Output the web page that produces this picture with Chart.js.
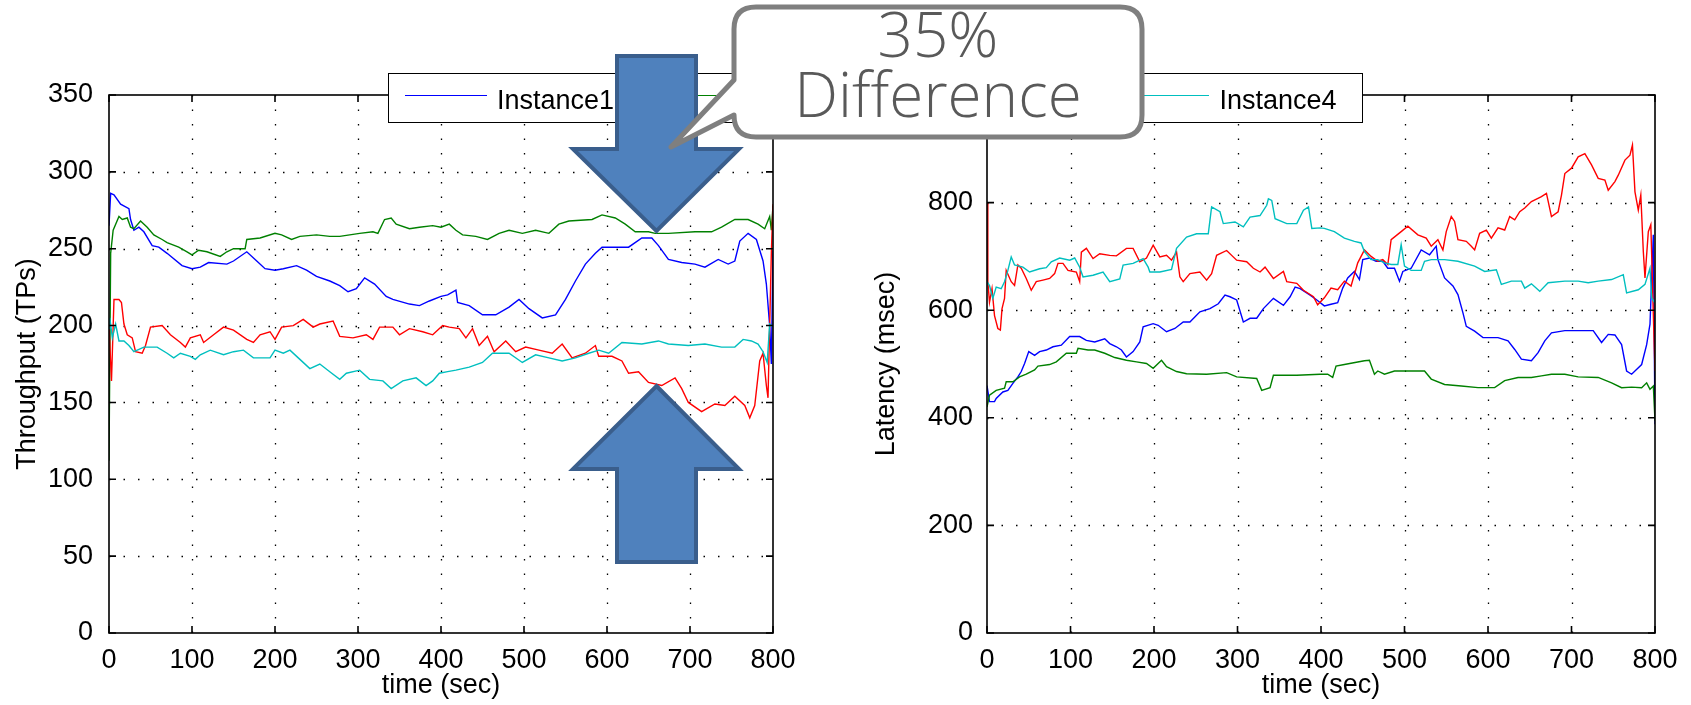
<!DOCTYPE html>
<html>
<head>
<meta charset="utf-8">
<script src="https://cdn.jsdelivr.net/npm/chart.js@4/dist/chart.umd.min.js"></script>
<style>
  html, body { margin: 0; padding: 0; background: #fff; }
  #stage { position: relative; width: 1691px; height: 705px; overflow: hidden; background: #fff; }
  canvas { position: absolute; top: 0; }
  #legend { position: absolute; left: 388px; top: 73px; width: 975px; height: 50px; box-sizing: border-box;
            border: 1.5px solid #000; background: #fff; font-family: "Liberation Sans", Arial, Helvetica, sans-serif; }
  .lg-line { position: absolute; top: 21px; width: 82px; height: 0; border-top: 1.5px solid; }
  .lg-text { position: absolute; top: 3px; height: 47px; line-height: 47px; font-size: 27px; color: #000; white-space: nowrap; }
  svg.ov { position: absolute; left: 0; top: 0; }
  #callText { position: absolute; left: 734px; top: 3px; width: 408px; text-align: center; font-family: "Open Sans", Lato, sans-serif;
              font-weight: 300; font-size: 62px; line-height: 60px; color: #595959; }
</style>
</head>
<body>
<div id="stage">
  <canvas id="tp" width="820" height="705" style="left:0;width:820px;height:705px"></canvas>
  <canvas id="lat" width="841" height="705" style="left:850px;width:841px;height:705px"></canvas>
  <div id="legend"></div>
  <svg class="ov" width="1691" height="705">
    <polygon points="617,56 696,56 696,149 739,149 656.5,231 573,149 617,149" fill="#4f81bd" stroke="#3a5e8c" stroke-width="4"/>
    <polygon points="656.5,386 739,469 696,469 696,562 617,562 617,469 573,469" fill="#4f81bd" stroke="#3a5e8c" stroke-width="4"/>
  </svg>
  <svg class="ov" width="1691" height="705">
    <path d="M 756 7 H 1120 Q 1142 7 1142 29 V 115 Q 1142 137 1120 137 H 756 Q 734 137 734 115 L 671 147 L 734 80 V 29 Q 734 7 756 7 Z"
          fill="#fff" stroke="#7f7f7f" stroke-width="5" stroke-linejoin="round"/>
  </svg>
  <div id="callText">35%<br>Difference</div>
</div>
<script>
// ---------- data ----------
const seriesNames = ['Instance1', 'Instance2', 'Instance3', 'Instance4'];
const timeTicks = [0, 100, 200, 300, 400, 500, 600, 700, 800];
const throughputTicks = [0, 50, 100, 150, 200, 250, 300, 350];
const latencyTicks = [0, 200, 400, 600, 800, 1000];

// Throughput (TPs) vs time (sec): [time, value]
const tpInstance1 = [[0,265],[2,286],[6,285],[14,279],[24,276],[26,269],[30,262],[36,264],[42,261],[52,252],[60,251],[70,247],[88,239],[100,237],[110,238],[120,241],[142,240],[150,242],[166,248],[178,242],[188,237],[200,236],[210,237],[226,239],[238,236],[250,232],[266,229],[278,226],[288,222],[298,224],[308,231],[320,227],[334,219],[342,217],[362,214],[374,213],[386,216],[400,219],[408,220],[418,223],[420,215],[434,213],[450,207],[466,207],[482,212],[494,217],[506,211],[522,205],[538,207],[550,217],[562,229],[574,240],[586,247],[594,251],[610,251],[626,251],[642,257],[654,257],[662,252],[674,243],[690,241],[706,240],[718,238],[734,243],[746,240],[754,242],[760,255],[770,260],[780,256],[788,242],[792,227],[796,200],[798,175],[800,249]];
const tpInstance2 = [[0,112],[2,247],[5,262],[12,271],[16,269],[22,270],[26,264],[30,263],[38,268],[46,264],[54,259],[64,256],[70,254],[84,251],[94,248],[100,246],[108,249],[118,248],[134,245],[142,248],[150,250],[164,250],[166,256],[182,257],[200,260],[208,259],[220,256],[230,258],[250,259],[266,258],[278,258],[302,260],[318,261],[324,260],[332,269],[340,270],[346,266],[362,263],[374,264],[390,265],[400,264],[410,266],[418,262],[426,259],[442,258],[456,256],[470,260],[482,262],[498,260],[514,262],[530,260],[542,266],[554,268],[582,269],[594,272],[610,270],[622,266],[634,261],[650,261],[658,260],[674,260],[706,261],[726,261],[738,264],[754,269],[770,269],[782,266],[790,263],[796,271],[798,262],[800,278]];
const tpInstance3 = [[0,200],[3,164],[6,217],[12,217],[15,215],[18,201],[22,194],[28,192],[32,183],[40,182],[44,187],[50,199],[64,200],[74,194],[86,189],[92,186],[98,192],[110,194],[114,189],[126,194],[138,199],[150,197],[166,191],[174,189],[182,194],[194,196],[200,191],[208,199],[222,200],[234,204],[246,199],[254,201],[270,203],[278,193],[294,192],[310,194],[318,191],[326,199],[342,199],[350,194],[362,198],[378,196],[390,194],[402,200],[410,199],[422,198],[430,192],[438,198],[446,187],[456,193],[464,183],[478,190],[490,183],[502,186],[518,184],[534,182],[546,188],[558,179],[574,182],[586,187],[590,180],[606,180],[618,177],[626,169],[638,170],[650,163],[666,161],[682,166],[690,159],[698,150],[714,144],[730,149],[742,148],[754,154],[766,148],[772,140],[778,148],[784,177],[788,182],[792,161],[794,153],[798,247],[800,279]];
const tpInstance4 = [[0,198],[1,205],[4,192],[8,201],[12,190],[18,190],[24,187],[30,183],[42,186],[58,186],[70,182],[78,179],[86,182],[98,180],[104,178],[110,181],[122,184],[138,181],[150,183],[162,184],[174,179],[194,179],[200,184],[210,182],[218,184],[230,178],[242,172],[254,175],[266,170],[278,165],[286,169],[302,171],[314,165],[330,164],[340,159],[354,164],[370,166],[382,161],[390,164],[398,169],[408,170],[418,171],[434,173],[450,176],[462,182],[482,182],[498,176],[514,181],[530,179],[546,177],[562,179],[578,182],[590,184],[602,182],[618,189],[642,188],[662,190],[674,188],[698,187],[718,188],[738,186],[754,186],[764,191],[774,190],[782,188],[788,183],[793,176],[796,201],[800,199]];

// Latency (msec) vs time (sec): [time, value]
const latInstance1 = [[0,460],[3,430],[9,430],[11,436],[19,448],[25,451],[31,464],[37,476],[41,486],[45,501],[50,523],[57,516],[63,523],[71,526],[79,532],[89,535],[99,551],[111,551],[119,544],[129,541],[141,547],[147,538],[155,532],[161,526],[167,513],[175,523],[183,541],[187,569],[199,575],[205,572],[215,560],[225,566],[235,578],[243,578],[255,597],[267,603],[277,612],[285,628],[291,625],[299,619],[307,578],[315,585],[323,585],[331,603],[343,622],[355,609],[363,625],[369,643],[375,640],[387,628],[395,619],[404,608],[412,611],[420,614],[426,641],[432,660],[440,672],[446,657],[450,694],[458,697],[466,691],[474,691],[480,678],[488,678],[494,654],[498,672],[508,678],[520,712],[530,703],[538,719],[540,694],[548,660],[558,645],[564,629],[570,595],[574,570],[584,561],[594,549],[612,549],[624,543],[632,527],[640,509],[652,506],[660,521],[668,543],[676,558],[692,562],[726,562],[736,540],[744,555],[752,554],[760,536],[766,487],[772,481],[784,499],[790,536],[794,574],[798,740],[800,388]];
const latInstance2 = [[0,420],[3,442],[11,451],[21,455],[23,467],[31,467],[39,476],[47,481],[57,489],[61,496],[75,499],[83,504],[95,520],[107,520],[109,529],[121,526],[129,526],[141,520],[153,512],[167,507],[179,504],[191,501],[199,492],[209,507],[215,495],[227,486],[239,482],[263,481],[287,484],[299,476],[323,473],[329,451],[339,456],[343,479],[371,479],[399,481],[408,481],[414,475],[418,496],[428,499],[452,506],[458,507],[464,481],[468,487],[476,481],[488,487],[524,487],[532,472],[548,462],[568,459],[588,456],[608,456],[620,469],[636,475],[652,475],[664,478],[676,481],[692,481],[708,476],[732,475],[748,465],[760,456],[772,457],[784,456],[790,465],[794,453],[798,459],[800,394]];
const latInstance3 = [[0,800],[1,653],[3,615],[6,640],[9,590],[13,566],[16,563],[18,603],[21,622],[23,674],[29,653],[33,646],[37,684],[41,678],[47,659],[53,637],[59,653],[67,656],[75,659],[81,668],[85,687],[91,687],[97,674],[107,671],[111,653],[113,708],[119,715],[127,696],[135,705],[147,702],[155,701],[167,715],[175,715],[183,690],[191,697],[199,721],[207,699],[215,702],[221,693],[227,708],[231,662],[235,653],[243,668],[255,671],[263,656],[269,668],[275,702],[287,711],[299,693],[311,690],[319,678],[327,671],[333,680],[343,659],[355,672],[359,653],[371,650],[379,637],[391,625],[396,610],[404,623],[412,641],[420,638],[428,654],[436,645],[444,688],[452,712],[460,700],[468,691],[474,694],[480,685],[484,731],[496,746],[504,756],[516,740],[526,734],[532,719],[540,731],[546,712],[550,746],[556,774],[560,765],[564,731],[574,728],[580,719],[584,712],[590,743],[598,749],[604,734],[612,753],[620,749],[626,774],[632,768],[638,783],[644,790],[652,802],[664,811],[670,817],[676,774],[684,783],[688,814],[692,854],[700,864],[708,885],[716,891],[724,870],[732,845],[740,842],[744,823],[752,839],[756,851],[764,879],[770,888],[773,907],[776,820],[780,786],[783,814],[786,709],[788,660],[792,746],[795,759],[798,592],[800,487]];
const latInstance4 = [[0,653],[3,646],[7,622],[11,643],[17,640],[21,653],[25,674],[29,699],[33,684],[43,680],[51,671],[63,677],[71,679],[77,690],[87,697],[99,693],[105,697],[111,680],[115,662],[127,665],[139,671],[147,653],[159,658],[163,684],[175,687],[187,696],[193,680],[195,671],[207,671],[221,676],[227,715],[239,736],[251,742],[265,742],[269,792],[279,783],[283,761],[297,764],[307,755],[315,773],[327,776],[335,795],[337,807],[341,804],[345,770],[359,761],[371,761],[379,786],[385,792],[389,752],[399,753],[404,752],[416,746],[428,734],[440,728],[448,725],[452,709],[460,694],[468,694],[476,688],[484,685],[492,685],[496,722],[500,682],[508,674],[520,674],[524,691],[532,694],[548,694],[564,691],[584,682],[596,672],[610,675],[616,648],[628,654],[640,654],[644,641],[652,649],[662,635],[672,651],[692,654],[708,654],[720,651],[732,654],[748,657],[762,666],[766,632],[780,638],[788,648],[794,678],[796,623],[800,613]];

// ---------- styles ----------
const seriesColors = ['#0000ff', '#008000', '#ff0000', '#00bfbf'];
const FONT = '"Liberation Sans", Arial, Helvetica, sans-serif';

// MATLAB-like axes: dotted grid, boxed frame, inward ticks (positions from Chart.js scales)
const matlabAxes = {
  id: 'matlabAxes',
  beforeDatasetsDraw(chart) {
    const { ctx, chartArea: a, scales: { x, y } } = chart;
    ctx.save();
    ctx.strokeStyle = '#000';
    ctx.lineWidth = 1.3;
    ctx.setLineDash([1.5, 13]);
    ctx.beginPath();
    x.ticks.forEach(t => {
      const p = Math.round(x.getPixelForValue(t.value)) + 0.5;
      if (p > a.left + 2 && p < a.right - 2) { ctx.moveTo(p, a.bottom); ctx.lineTo(p, a.top); }
    });
    y.ticks.forEach(t => {
      const p = Math.round(y.getPixelForValue(t.value)) + 0.5;
      if (p > a.top + 2 && p < a.bottom - 2) { ctx.moveTo(a.left, p); ctx.lineTo(a.right, p); }
    });
    ctx.stroke();
    ctx.restore();
  },
  afterDatasetsDraw(chart) {
    const { ctx, chartArea: a, scales: { x, y } } = chart;
    const L = 7;
    ctx.save();
    ctx.strokeStyle = '#000';
    ctx.lineWidth = 1.6;
    ctx.setLineDash([]);
    ctx.strokeRect(a.left, a.top, a.right - a.left, a.bottom - a.top);
    ctx.beginPath();
    x.ticks.forEach(t => {
      const p = x.getPixelForValue(t.value);
      ctx.moveTo(p, a.bottom); ctx.lineTo(p, a.bottom - L);
      ctx.moveTo(p, a.top); ctx.lineTo(p, a.top + L);
    });
    y.ticks.forEach(t => {
      const p = y.getPixelForValue(t.value);
      ctx.moveTo(a.left, p); ctx.lineTo(a.left + L, p);
      ctx.moveTo(a.right, p); ctx.lineTo(a.right - L, p);
    });
    ctx.stroke();
    ctx.restore();
  }
};

function buildDatasets(seriesList) {
  return seriesList.map((s, i) => ({
    label: seriesNames[i],
    data: s.map(p => ({ x: p[0], y: p[1] })),
    borderColor: seriesColors[i],
    backgroundColor: seriesColors[i],
    borderWidth: 1.4,
    pointRadius: 0,
    tension: 0,
    fill: false,
    order: seriesList.length - 1 - i
  }));
}

function makeChart(id, seriesList, cfg) {
  const ctx = document.getElementById(id);
  return new Chart(ctx, {
    type: 'line',
    data: { datasets: buildDatasets(seriesList) },
    plugins: [matlabAxes],
    options: {
      responsive: false,
      animation: false,
      devicePixelRatio: 1,
      layout: { padding: { top: 95, right: cfg.padRight, bottom: 0, left: 0 } },
      plugins: { legend: { display: false }, tooltip: { enabled: false } },
      scales: {
        x: {
          type: 'linear', position: 'bottom', min: 0, max: 800,
          afterBuildTicks: s => { s.ticks = timeTicks.map(v => ({ value: v })); },
          afterFit: s => { s.height = 72; },
          grid: { display: false },
          border: { display: false },
          ticks: { color: '#000', font: { family: FONT, size: 27 }, padding: 3, autoSkip: false, maxRotation: 0 },
          title: { display: true, text: 'time (sec)', color: '#000', font: { family: FONT, size: 27 }, padding: { top: 0, bottom: 3 } }
        },
        y: {
          type: 'linear', position: 'left', min: 0, max: cfg.yMax,
          afterBuildTicks: s => { s.ticks = cfg.yTicks.map(v => ({ value: v })); },
          afterFit: s => { s.width = cfg.yAxisWidth; },
          grid: { display: false },
          border: { display: false },
          ticks: { color: '#000', font: { family: FONT, size: 27 }, padding: cfg.yTickPad, autoSkip: false },
          title: { display: true, text: cfg.yTitle, color: '#000', font: { family: FONT, size: 27 }, padding: { top: cfg.yTitlePad, bottom: 0 } }
        }
      }
    }
  });
}

makeChart('tp', [tpInstance1, tpInstance2, tpInstance3, tpInstance4], {
  yMax: 350, yTicks: throughputTicks, yTitle: 'Throughput (TPs)', yAxisWidth: 109, yTickPad: 8, yTitlePad: 11, padRight: 47
});
makeChart('lat', [latInstance1, latInstance2, latInstance3, latInstance4], {
  yMax: 1000, yTicks: latencyTicks, yTitle: 'Latency (msec)', yAxisWidth: 137, yTickPad: 6, yTitlePad: 20, padRight: 36
});

// shared legend box
const legend = document.getElementById('legend');
seriesNames.forEach((name, i) => {
  const x0 = 16 + i * 240.8;
  const line = document.createElement('div');
  line.className = 'lg-line';
  line.style.left = x0 + 'px';
  line.style.borderTopColor = seriesColors[i];
  const txt = document.createElement('div');
  txt.className = 'lg-text';
  txt.style.left = (x0 + 92) + 'px';
  txt.textContent = name;
  legend.appendChild(line);
  legend.appendChild(txt);
});
</script>
</body>
</html>
